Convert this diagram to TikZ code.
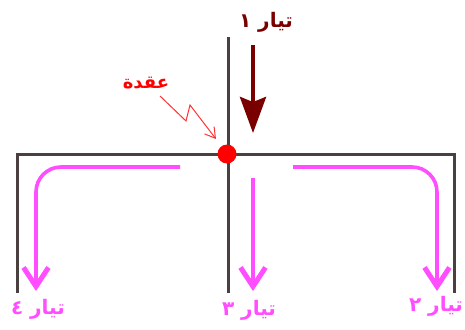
\documentclass[tikz,border=0pt]{standalone}
\usepackage{fontspec}
\usetikzlibrary{arrows.meta}
\TeXXeTstate=1
\newfontfamily\arabicfont[Script=Arabic]{DejaVu Sans}
\definecolor{wire}{HTML}{4A4040}
\definecolor{flow}{HTML}{FF4DFF}
\definecolor{inflow}{HTML}{7A0000}
\pgfdeclarelayer{wires}
\pgfsetlayers{wires,main}
\tikzset{
  wireline/.style={draw=wire,line width=3pt},
  flowline/.style={draw=flow,line width=3.6pt,rounded corners=25pt,-{Straight Barb[length=19pt,width=25pt,line width=5pt]}},
  flowlabel/.style={text=flow,font=\arabicfont\bfseries\fontsize{20}{20}\selectfont,inner sep=0pt},
}
\begin{document}
\begin{tikzpicture}[x=1pt,y=-1pt]
\useasboundingbox (0,0) rectangle (465,329);
\node[circle,fill=red,minimum size=19pt,inner sep=0pt] (junction) at (227,154) {};
\coordinate (top) at (228,37);
\coordinate (bottom) at (228,293);
\coordinate (left) at (17,293);
\coordinate (right) at (454,293);
\coordinate (cornerL) at (17,154);
\coordinate (cornerR) at (454,154);
\begin{pgfonlayer}{wires}
\draw[wireline] (top) -- (bottom);
\draw[wireline,line join=miter] (left) -- (cornerL) -- (cornerR) -- (right);
\end{pgfonlayer}
% incoming current
\coordinate (inA) at (253,45);
\coordinate (inB) at (253,133);
\draw[draw=inflow,line width=4pt,-{Stealth[length=36pt,width=26pt,inset=5pt]}] (inA) -- (inB);
% branch currents
\coordinate (lA) at (180,167); \coordinate (lB) at (36,291);
\coordinate (mA) at (253,178); \coordinate (mB) at (253,291);
\coordinate (rA) at (293,167); \coordinate (rB) at (437,291);
\draw[flowline] (lA) -- (36,167) -- (lB);
\draw[flowline] (mA) -- (mB);
\draw[flowline] (rA) -- (437,167) -- (rB);
% pointer
\coordinate (pS) at (160,96);
\coordinate (pE) at (216,139);
\draw[red!80!white,line width=1pt,-{Straight Barb[length=10pt,width=12pt]}] (pS) -- (186,121) -- (190,105) -- (pE);
% labels
\node[inner sep=0pt,text=inflow,font=\arabicfont\bfseries\fontsize{20}{20}\selectfont] (t1) at (266,22) {\beginR تيار ١\endR};
\node[inner sep=0pt,text=red,font=\arabicfont\bfseries\fontsize{18}{18}\selectfont] (tn) at (146,83) {\beginR عقدة\endR};
\node[flowlabel] (t4) at (38,309) {\beginR تيار ٤\endR};
\node[flowlabel] (t3) at (249,310) {\beginR تيار ٣\endR};
\node[flowlabel] (t2) at (436,306) {\beginR تيار ٢\endR};
\end{tikzpicture}
\end{document}
